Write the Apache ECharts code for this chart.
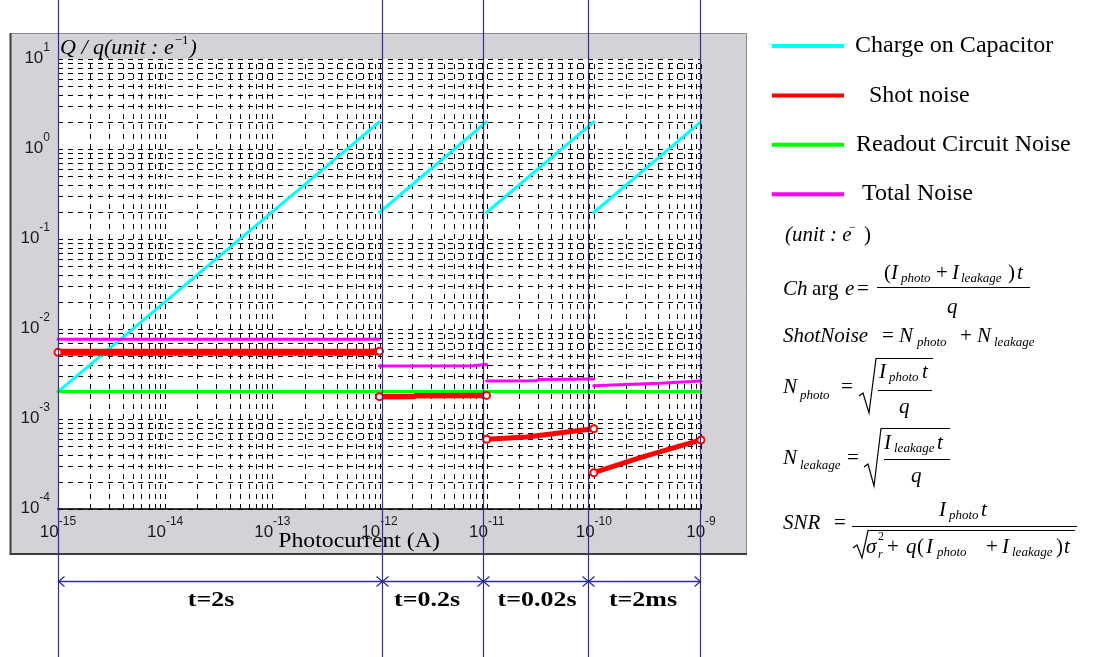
<!DOCTYPE html>
<html><head><meta charset="utf-8">
<script src="https://cdn.jsdelivr.net/npm/echarts@6/dist/echarts.min.js"></script>
<style>html,body{margin:0;padding:0;background:#fff}#c{width:1110px;height:657px}</style>
</head><body><div id="c"></div>
<script>
// ---------------- data ----------------
const xTickExponents = [-15, -14, -13, -12, -11, -10, -9];
const yTickExponents = [-4, -3, -2, -1, 0, 1];
const legendNames = ['Charge on Capacitor', 'Shot noise', 'Readout Circuit Noise', 'Total Noise'];
const timeLabels = ['t=2s', 't=0.2s', 't=0.02s', 't=2ms'];

const chargeOnCapacitor = [
  [[1e-15, 2.0e-3], [1e-12, 2.0]],
  [[1e-12, 0.197], [1e-11, 2.0]],
  [[1e-11, 0.197], [1e-10, 2.0]],
  [[1e-10, 0.197], [1e-9, 2.0]]
];
const shotNoise = [
  [[1e-15, 5.5e-3], [8e-13, 5.5e-3], [1e-12, 5.65e-3]],
  [[1e-12, 1.77e-3], [2.1e-12, 1.78e-3], [2.2e-12, 1.815e-3], [1e-11, 1.83e-3]],
  [[1e-11, 5.94e-4], [2.35e-11, 6.3e-4], [1e-10, 7.8e-4]],
  [[1e-10, 2.53e-4], [2.86e-10, 3.8e-4], [1e-9, 5.85e-4]]
];
const readoutNoise = [
  [[1e-15, 2.02e-3], [1e-9, 2.02e-3]]
];
const totalNoise = [
  [[1e-15, 7.7e-3], [1e-12, 7.7e-3]],
  [[1e-12, 3.88e-3], [7.4e-12, 3.9e-3], [1e-11, 4.03e-3]],
  [[1e-11, 2.64e-3], [2.9e-11, 2.66e-3], [3.1e-11, 2.75e-3], [1e-10, 2.79e-3]],
  [[1e-10, 2.34e-3], [2.0e-10, 2.42e-3], [4.1e-10, 2.5e-3], [1e-9, 2.64e-3]]
];

// ---------------- chart ----------------
const X_MIN = Math.pow(10, xTickExponents[0]), X_MAX = Math.pow(10, xTickExponents[xTickExponents.length - 1]);
const Y_MIN = Math.pow(10, yTickExponents[0]), Y_MAX = Math.pow(10, yTickExponents[yTickExponents.length - 1]);

// log grid lines (major + minor), built from the tick decades
const gridData = [];
for (let i = 0; i < xTickExponents.length; i++) {
  const e = xTickExponents[i];
  const kmax = i === xTickExponents.length - 1 ? 1 : 9;
  for (let k = 1; k <= kmax; k++) gridData.push([k * Math.pow(10, e), 1, 0]);
}
for (let i = 0; i < yTickExponents.length; i++) {
  const e = yTickExponents[i];
  const kmax = i === yTickExponents.length - 1 ? 1 : 9;
  for (let k = 1; k <= kmax; k++) gridData.push([1e-12, k * Math.pow(10, e), 1]);
}

const SERIF = '"Liberation Serif", "Times New Roman", serif';
const SANS = '"Liberation Sans", Arial, sans-serif';

const series = [{
  type: 'custom', name: 'grid', silent: true, z: 1, clip: false, animation: false,
  data: gridData, encode: { x: 0, y: 1 },
  renderItem: function (params, api) {
    let x1, y1, x2, y2;
    if (api.value(2) === 0) {
      const a = api.coord([api.value(0), Y_MIN]), b = api.coord([api.value(0), Y_MAX]);
      x1 = x2 = Math.round(a[0]) + 0.5; y1 = a[1]; y2 = b[1];
    } else {
      const a = api.coord([X_MIN, api.value(1)]), b = api.coord([X_MAX, api.value(1)]);
      y1 = y2 = Math.round(a[1]) + 0.5; x1 = a[0]; x2 = b[0];
    }
    return { type: 'line', shape: { x1, y1, x2, y2 }, style: { stroke: '#000', lineWidth: 1, lineDash: [5, 5] } };
  }
}];

function addSegments(name, segs, color, widths, opts) {
  segs.forEach(function (seg, si) {
    const w = Array.isArray(widths) ? widths[si] : widths;
    const s = Object.assign({
      type: 'line', name: name, data: seg, z: 3, clip: false, animation: false,
      symbol: 'none', color: color,
      itemStyle: { color: color },
      lineStyle: { color: color, width: w, cap: 'round' }
    }, opts || {});
    if (s.symbol !== 'none') {
      const last = seg.length - 1;
      s.symbolSize = function (v, p) { return (p.dataIndex === 0 || p.dataIndex === last) ? 7 : 0; };
    }
    series.push(s);
  });
}
addSegments('Charge on Capacitor', chargeOnCapacitor, '#00ffff', 3);
addSegments('Readout Circuit Noise', readoutNoise, '#00ff00', 3);
addSegments('Total Noise', totalNoise, '#ff00ff', 3);
addSegments('Shot noise', shotNoise, '#ff0000', [7, 5.5, 5, 5], {
  symbol: 'emptyCircle', z: 4,
  itemStyle: { color: '#ff0000', borderColor: '#ff0000', borderWidth: 1.5 }
});

const tickRich = {
  b: { fontFamily: SANS, fontSize: 17, color: '#1a1a1a', lineHeight: 18, verticalAlign: 'bottom' },
  s: { fontFamily: SANS, fontSize: 12, color: '#1a1a1a', lineHeight: 12, padding: [0, 0, 13, 0], verticalAlign: 'bottom' }
};
function tickFmt(v) {
  const e = Math.round(Math.log10(v));
  if (Math.abs(Math.log10(v) - e) > 1e-6) return '';
  return '{b|10}{s|' + e + '}';
}

// ---------- decorations (graphic) ----------
function T(x, y, s, size, style, align) {
  return {
    type: 'text', x: x, y: y, z: 50, silent: true,
    style: {
      text: s, fill: '#000', font: (style || '') + ' ' + size + 'px ' + SERIF,
      textAlign: align || 'left', align: align || 'left',
      textVerticalAlign: 'middle', verticalAlign: 'middle'
    }
  };
}
function L(pts, color, w) {
  return { type: 'polyline', z: 50, silent: true, shape: { points: pts }, style: { stroke: color || '#000', lineWidth: w || 1, fill: null } };
}
const g = [];
// gray figure background
g.push({ type: 'rect', z: -10, silent: true, shape: { x: 10.5, y: 33.5, width: 736, height: 520 }, style: { fill: '#d4d2d7', stroke: '#8a8a8a', lineWidth: 1 } });
g.push(L([[10.5, 33], [10.5, 554], [747, 554]], '#3c3c3c', 2));
g[g.length - 1].z = -9;
// axis titles
g.push({
  type: 'text', x: 60, y: 47, z: 50, silent: true,
  style: {
    text: '{i|Q / q(unit : e}{s|−1}{i|)}', textAlign: 'left', align: 'left', textVerticalAlign: 'middle', verticalAlign: 'middle',
    rich: {
      i: { font: 'italic 22px ' + SERIF, fill: '#000', lineHeight: 24, verticalAlign: 'bottom' },
      s: { font: '13px ' + SERIF, fill: '#000', lineHeight: 13, padding: [0, 1, 12, 1], verticalAlign: 'bottom' }
    }
  }
});
const photoTitle = T(359, 541, 'Photocurrent (A)', 22, '', 'center');
photoTitle.scaleX = 1.08;
g.push(photoTitle);

// formulas
const f = [];
f.push(T(785, 235, '(unit : e', 21, 'italic'));
f.push(T(849, 228, '−', 12, ''));
f.push(T(864, 235, ')', 21, ''));
// Charge
f.push(T(783, 289, 'Ch', 21, 'italic'));
f.push(T(812, 289, 'arg', 21, ''));
f.push(T(845, 289, 'e', 21, 'italic'));
f.push(T(857, 289, '=', 21, ''));
f.push(T(884, 273, '(', 21, ''));
f.push(T(891, 273, 'I', 21, 'italic'));
f.push(T(901, 279, 'photo', 13, 'italic'));
f.push(T(936, 273, '+', 21, ''));
f.push(T(952, 273, 'I', 21, 'italic'));
f.push(T(961, 279, 'leakage', 13, 'italic'));
f.push(T(1008, 273, ')', 21, ''));
f.push(T(1017, 273, 't', 21, 'italic'));
f.push(L([[877, 287.5], [1030, 287.5]]));
f.push(T(947, 307, 'q', 21, 'italic'));
// Shot noise
f.push(T(783, 336, 'ShotNoise', 21, 'italic'));
f.push(T(882, 336, '=', 21, ''));
f.push(T(899, 336, 'N', 21, 'italic'));
f.push(T(917, 343, 'photo', 13, 'italic'));
f.push(T(960, 336, '+', 21, ''));
f.push(T(977, 336, 'N', 21, 'italic'));
f.push(T(994, 343, 'leakage', 13, 'italic'));
// N photo
f.push(T(783, 387, 'N', 21, 'italic'));
f.push(T(800, 396, 'photo', 13, 'italic'));
f.push(T(841, 387, '=', 21, ''));
f.push(L([[859, 396], [863, 393], [869, 413], [876, 358.5], [933, 358.5]], '#000', 1.2));
f.push(T(879, 372, 'I', 21, 'italic'));
f.push(T(889, 378, 'photo', 13, 'italic'));
f.push(T(922, 372, 't', 21, 'italic'));
f.push(L([[878, 390.5], [932, 390.5]]));
f.push(T(899, 407, 'q', 21, 'italic'));
// N leakage
f.push(T(783, 458, 'N', 21, 'italic'));
f.push(T(800, 466, 'leakage', 13, 'italic'));
f.push(T(847, 458, '=', 21, ''));
f.push(L([[864, 467], [868, 464], [874, 486], [881, 428.5], [950, 428.5]], '#000', 1.2));
f.push(T(884, 443, 'I', 21, 'italic'));
f.push(T(894, 449, 'leakage', 13, 'italic'));
f.push(T(937, 443, 't', 21, 'italic'));
f.push(L([[884, 459.5], [950, 459.5]]));
f.push(T(911, 476, 'q', 21, 'italic'));
// SNR
f.push(T(783, 523, 'SNR', 21, 'italic'));
f.push(T(834, 523, '=', 21, ''));
f.push(T(939, 510, 'I', 21, 'italic'));
f.push(T(949, 516, 'photo', 13, 'italic'));
f.push(T(981, 510, 't', 21, 'italic'));
f.push(L([[852, 526.5], [1077, 526.5]]));
f.push(L([[853, 548], [857, 545], [862, 558], [868, 530.5], [1075, 530.5]], '#000', 1.2));
f.push(T(866, 547, 'σ', 21, 'italic'));
f.push(T(878, 537, '2', 12, ''));
f.push(T(878, 555, 'r', 12, 'italic'));
f.push(T(887, 547, '+', 21, ''));
f.push(T(906, 547, 'q', 21, 'italic'));
f.push(T(917, 547, '(', 21, ''));
f.push(T(926, 547, 'I', 21, 'italic'));
f.push(T(937, 553, 'photo', 13, 'italic'));
f.push(T(986, 547, '+', 21, ''));
f.push(T(1002, 547, 'I', 21, 'italic'));
f.push(T(1012, 553, 'leakage', 13, 'italic'));
f.push(T(1056, 547, ')', 21, ''));
f.push(T(1064, 547, 't', 21, 'italic'));
f.forEach(function (e) { g.push(e); });

// time-region annotations
const NAVY = '#2e2e96';
const bounds = [58.5, 382.5, 483.5, 588.5, 700.5];
bounds.forEach(function (bx) {
  const ln = L([[bx, 0], [bx, 657]], NAVY, 1.2); ln.z = 100; g.push(ln);
});
const ay = 581.5;
g.push(Object.assign(L([[bounds[0], ay], [bounds[4], ay]], NAVY, 1.5), { z: 100 }));
bounds.forEach(function (bx, i) {
  if (i > 0) g.push(Object.assign(L([[bx - 6, ay - 5], [bx, ay], [bx - 6, ay + 5]], NAVY, 1.3), { z: 100 }));
  if (i < bounds.length - 1) g.push(Object.assign(L([[bx + 6, ay - 5], [bx, ay], [bx + 6, ay + 5]], NAVY, 1.3), { z: 100 }));
});
const labelCx = [211, 427, 537, 643];
timeLabels.forEach(function (t, i) {
  const e = T(labelCx[i], 600, t, 22, 'bold', 'center');
  e.scaleX = 1.18;
  g.push(e);
});

const chart = echarts.init(document.getElementById('c'), null, { renderer: 'canvas' });
chart.setOption({
  animation: false,
  backgroundColor: '#fff',
  grid: { left: 58, top: 59, width: 643, height: 450, show: true, backgroundColor: '#fff', borderWidth: 0 },
  xAxis: {
    type: 'log', logBase: 10, min: X_MIN, max: X_MAX, splitNumber: 6,
    splitLine: { show: false }, axisTick: { show: false }, minorTick: { show: false },
    axisLine: { show: true, onZero: false, lineStyle: { color: '#333', width: 2 } },
    axisLabel: { margin: 14, formatter: tickFmt, rich: tickRich, showMinLabel: true, showMaxLabel: true }
  },
  yAxis: {
    type: 'log', logBase: 10, min: Y_MIN, max: Y_MAX, splitNumber: 5,
    splitLine: { show: false }, axisTick: { show: false }, minorTick: { show: false },
    axisLine: { show: true, onZero: false, lineStyle: { color: '#222', width: 1 } },
    axisLabel: { margin: 8, formatter: tickFmt, rich: tickRich, padding: [0, 0, 2, 0], showMinLabel: true, showMaxLabel: true }
  },
  legend: {
    orient: 'vertical', left: 772, top: 33, padding: 0, itemGap: 23.4,
    itemWidth: 72, itemHeight: 4, icon: 'rect', selectedMode: false,
    itemStyle: { borderWidth: 0 },
    data: legendNames,
    formatter: function (name) { return '{p' + legendNames.indexOf(name) + '|' + name + '}'; },
    textStyle: {
      fontFamily: SERIF, fontSize: 24, color: '#000', lineHeight: 26,
      rich: {
        p0: { fontFamily: SERIF, fontSize: 24, color: '#000', lineHeight: 26, padding: [0, 0, 0, 6] },
        p1: { fontFamily: SERIF, fontSize: 24, color: '#000', lineHeight: 26, padding: [0, 0, 0, 20] },
        p2: { fontFamily: SERIF, fontSize: 24, color: '#000', lineHeight: 26, padding: [0, 0, 0, 7] },
        p3: { fontFamily: SERIF, fontSize: 24, color: '#000', lineHeight: 26, padding: [0, 0, 0, 13] }
      }
    }
  },
  graphic: { elements: g },
  series: series
});
</script>
</body></html>
